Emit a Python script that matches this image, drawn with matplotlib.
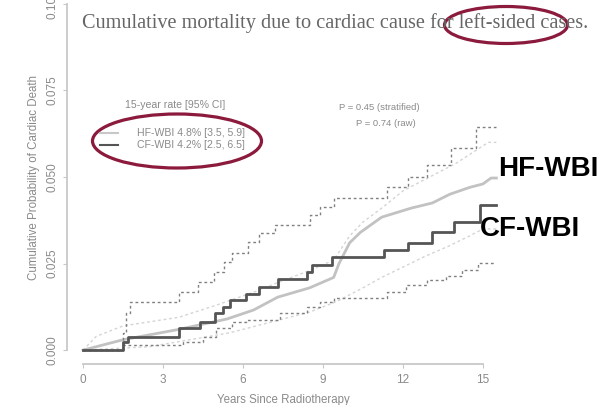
import matplotlib.pyplot as plt
from matplotlib.patches import Ellipse

plt.rcParams['font.family'] = ['Liberation Sans', 'DejaVu Sans']

# Cumulative incidence, CF-WBI (step curve + 95% CI)
cf_t = [0, 1.5, 1.7, 3.6, 4.4, 4.95, 5.25, 5.5, 6.1, 6.6, 7.3, 8.4, 8.6, 9.35, 11.3, 12.2, 13.1, 13.9, 14.9, 15.5]
cf_p = [0, 0.0023, 0.0038, 0.0064, 0.0081, 0.0107, 0.0124, 0.0145, 0.0162, 0.0182, 0.0205, 0.0226, 0.0246, 0.0268,
        0.029, 0.031, 0.034, 0.037, 0.042, 0.042]
cf_up_t = [0, 1.5, 1.6, 1.75, 3.6, 4.3, 4.9, 5.3, 5.6, 6.2, 6.6, 7.2, 8.5, 8.9, 9.4, 11.4, 12.2, 12.9, 13.8, 14.75, 15.5]
cf_up_p = [0, 0.005, 0.0107, 0.0139, 0.0168, 0.0197, 0.0225, 0.0254, 0.028, 0.0312, 0.0338, 0.0361, 0.039, 0.0413,
           0.0439, 0.0471, 0.05, 0.0535, 0.0584, 0.0645, 0.0645]
cf_lo_t = [0, 1.5, 3.75, 4.5, 5.0, 5.6, 6.1, 7.4, 8.4, 8.9, 9.4, 11.4, 12.1, 12.9, 13.6, 14.2, 14.8, 15.5]
cf_lo_p = [0, 0.0014, 0.0023, 0.0038, 0.0064, 0.0081, 0.0087, 0.0107, 0.0124, 0.0139, 0.015, 0.0168, 0.0188,
           0.0202, 0.0214, 0.0231, 0.0251, 0.0251]

# HF-WBI (many small steps, reads almost smooth) + 95% CI
hf_t = [0, 1.5, 3.6, 5.4, 6.4, 7.3, 8.5, 9.4, 9.6, 10.0, 10.4, 11.2, 12.3, 13.1, 13.75, 14.5, 15.0, 15.3, 15.5]
hf_p = [0, 0.003, 0.006, 0.009, 0.0116, 0.0153, 0.018, 0.021, 0.025, 0.031, 0.034, 0.0384, 0.041, 0.0425, 0.045,
        0.047, 0.048, 0.0497, 0.0497]
hf_up_t = [0, 0.5, 1.5, 3.6, 5.0, 6.5, 7.3, 8.5, 9.4, 10.0, 10.5, 11.2, 12.0, 13.0, 14.0, 14.8, 15.2, 15.5]
hf_up_p = [0, 0.004, 0.007, 0.0095, 0.013, 0.017, 0.0195, 0.023, 0.026, 0.033, 0.037, 0.041, 0.046, 0.050, 0.054,
           0.058, 0.060, 0.060]
hf_lo_t = [0, 2.5, 4.0, 5.5, 7.0, 8.5, 9.5, 10.5, 11.2, 12.0, 12.8, 13.7, 14.5, 15.0, 15.5]
hf_lo_p = [0, 0.001, 0.003, 0.005, 0.008, 0.011, 0.014, 0.018, 0.021, 0.024, 0.027, 0.030, 0.033, 0.035, 0.035]

xticks = [0, 3, 6, 9, 12, 15]
yticks = [0, 0.025, 0.05, 0.075, 0.1]
ytick_labels = ["0.000", "0.025", "0.050", "0.075", "0.100"]

legend_title = "15-year rate [95% CI]"
legend_labels = ["HF-WBI 4.8% [3.5, 5.9]", "CF-WBI 4.2% [2.5, 6.5]"]
p_texts = ["P = 0.45 (stratified)", "P = 0.74 (raw)"]
title = "Cumulative mortality due to cardiac cause for left-sided cases."

W, H = 606, 405
fig = plt.figure(figsize=(W / 100, H / 100), dpi=100)

# main axes, R-style detached axes
ax = fig.add_axes([67 / W, 1 - 364 / H, (499 - 67) / W, 374 / H])
ax.set_xlim(-0.6, 15.6)
ax.set_ylim(-0.004, 0.104)

dash = (0, (2, 2))
ax.plot(hf_up_t, hf_up_p, color="#d4d4d4", lw=1, ls=dash)
ax.plot(hf_lo_t, hf_lo_p, color="#d4d4d4", lw=1, ls=dash)
ax.plot(hf_t, hf_p, color="#c2c2c2", lw=2)
ax.plot(cf_up_t, cf_up_p, drawstyle="steps-post", color="#808080", lw=1, ls=dash)
ax.plot(cf_lo_t, cf_lo_p, drawstyle="steps-post", color="#808080", lw=1, ls=dash)
ax.plot(cf_t, cf_p, drawstyle="steps-post", color="#555555", lw=2)

for s in ["top", "right"]:
    ax.spines[s].set_visible(False)
ax.spines["left"].set_bounds(0, 0.1)
ax.spines["bottom"].set_bounds(0, 15)
for s in ["left", "bottom"]:
    ax.spines[s].set_color("#c8c8c8")
    ax.spines[s].set_linewidth(1.3)
ax.set_xticks(xticks)
ax.set_yticks(yticks)
ax.set_yticklabels(ytick_labels, rotation=90, va="center")
ax.tick_params(colors="#c8c8c8", labelcolor="#8a8a8a", labelsize=8.5, length=3)
ax.tick_params(axis="x", pad=4)
ax.tick_params(axis="y", pad=3)
ax.set_xlabel("Years Since Radiotherapy", fontsize=8.3, color="#8a8a8a", labelpad=6)
ax.set_ylabel("Cumulative Probability of Cardiac Death", fontsize=8.3, color="#8a8a8a", labelpad=5)

# overlay in pixel coords for the annotations
ov = fig.add_axes([0, 0, 1, 1], facecolor="none")
ov.set_xlim(0, W)
ov.set_ylim(H, 0)
ov.axis("off")

ov.text(335, 23, title, family="Liberation Serif", fontsize=14.6, color="#666666", ha="center", va="center")

ov.text(175, 105, legend_title, fontsize=7.6, color="#8a8a8a", ha="center", va="center")
ov.plot([100, 118], [133, 133], color="#c8c8c8", lw=1.5)
ov.plot([100, 118], [145, 145], color="#555555", lw=1.5)
ov.text(137, 133, legend_labels[0], fontsize=7.6, color="#8a8a8a", ha="left", va="center")
ov.text(137, 145, legend_labels[1], fontsize=7.6, color="#8a8a8a", ha="left", va="center")

ov.text(379, 107, p_texts[0], fontsize=6.8, color="#8a8a8a", ha="center", va="center")
ov.text(386, 123, p_texts[1], fontsize=6.8, color="#8a8a8a", ha="center", va="center")

ov.text(498, 169, "HF-WBI", weight="bold", fontsize=20, color="black", ha="left", va="center")
ov.text(480, 229, "CF-WBI", weight="bold", fontsize=20, color="black", ha="left", va="center")

ov.add_patch(Ellipse((177, 141), 169, 54, fill=False, edgecolor="#8b1a3c", lw=2.3))
ov.add_patch(Ellipse((506, 25), 123, 37, fill=False, edgecolor="#8b1a3c", lw=2.3))

fig.savefig("out.png", dpi=100)
